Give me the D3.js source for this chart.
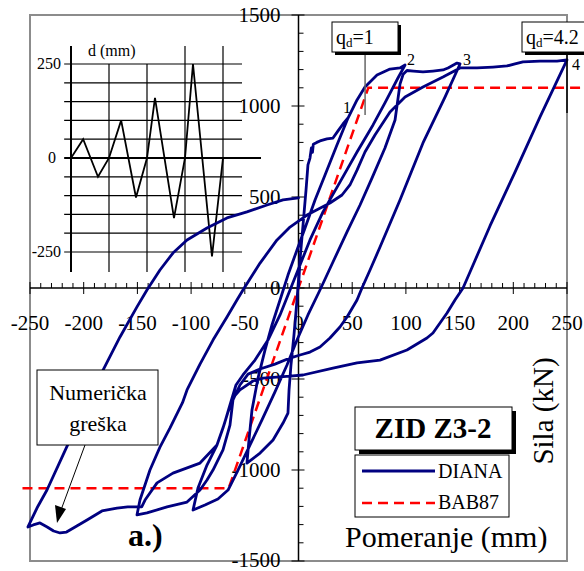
<!DOCTYPE html>
<html><head><meta charset="utf-8">
<script src="https://cdn.jsdelivr.net/npm/d3@7"></script>
<style>
body{margin:0;background:#fff}
svg{display:block}
</style>
</head><body>
<svg id="c" width="584" height="571" font-family="'Liberation Serif', Tinos, 'DejaVu Serif', serif"></svg>
<script>
// ---------- data ----------
const xTickLabels = [-250,-200,-150,-100,-50,0,50,100,150,200,250];
const yTickLabels = [-1500,-1000,-500,0,500,1000,1500];
const insetTickLabels = [-250,0,250];
const insetCycles = [0,1,2,3,4];

// DIANA hysteresis branches (displacement mm, force kN)
const dianaLoad0 = [[0,0],[1.4,154],[4.2,346],[7.0,538],[8.8,676],[10.7,714],[12.0,770],[13.0,745],[13.8,790],[17,800],[20.0,808],[26.5,819],[32.1,824],[36.8,863],[41.4,901],[46.1,934]];
const dianaUnload1 = [[46.1,934],[35.8,786],[24.7,621],[15.4,484],[6.1,330],[-1.4,209],[-9.8,71],[-17.2,-66],[-24.7,-203],[-31.2,-341],[-37.7,-495],[-43.3,-670],[-46.1,-835],[-48.0,-962]];
const dianaReload1 = [[-48.0,-962],[-35.8,-907],[-23.7,-835],[-14.4,-742],[-9.8,-687],[-8.8,-560],[-7.0,-423],[-4.2,-258],[-1.4,-66],[1.4,154],[4.2,346],[7.0,538],[8.8,676],[10.7,714],[12.0,770],[13.0,745],[13.8,790],[17,800],[20.0,808],[26.5,819],[32.1,824],[36.8,863],[41.4,901],[46.1,934],[54.5,1033],[61.9,1104],[73.1,1170],[85.2,1203],[94.5,1209],[99.2,1225]];
const dianaUnload2 = [[99.2,1225],[92.6,1154],[80.5,1017],[69.4,896],[54.5,747],[38.6,582],[22.8,418],[10.7,264],[1.4,126],[-7.9,-11],[-17.2,-148],[-28.4,-286],[-40.5,-396],[-51.7,-478],[-58.2,-533],[-63.8,-643],[-69.4,-753],[-75.9,-863],[-85.2,-973],[-93.6,-1099],[-98.2,-1220]];
const dianaReload2 = [[-98.2,-1220],[-87.1,-1192],[-75.0,-1159],[-65.6,-1110],[-56.3,-1000],[-45.2,-863],[-34.0,-725],[-21.9,-571],[-10.7,-423],[-1.4,-286],[8.8,-148],[20.0,-11],[32.1,143],[45.2,308],[57.3,456],[68.4,604],[80.5,769],[89.9,923],[94.5,1120],[97.5,1175],[101,1195],[107,1192],[115.9,1187],[125.2,1192],[134.5,1198],[139.2,1209],[147.6,1236],[150.4,1231]];
const dianaUnload3 = [[150.4,1231],[136.4,1049],[115.9,797],[94.5,484],[75.9,225],[66.6,99],[59.1,0],[54.5,-66],[45.2,-159],[38.6,-214],[29.3,-275],[20.0,-324],[10.7,-352],[1.4,-368],[-7.9,-385],[-21.9,-418],[-35.8,-445],[-47.0,-473],[-54.5,-533],[-61.0,-615],[-63.8,-753],[-70.3,-890],[-79.6,-1000],[-85.2,-1055],[-91.7,-1110],[-103.8,-1176],[-122.4,-1203],[-141.1,-1236],[-150.4,-1247]];
const dianaReload3 = [[-150.4,-1247],[-147.6,-1165],[-138.3,-1000],[-129.0,-874],[-119.6,-769],[-108,-630],[-103.8,-560],[-91.7,-418],[-79.6,-286],[-66.6,-159],[-57.3,-66],[-51.7,-11],[-35.8,137],[-20.0,264],[-7.9,335],[7.9,401],[29.3,467],[40.5,511],[47.9,566],[54.5,648],[61.9,747],[71.2,841],[85.2,967],[99.2,1049],[115.9,1104],[134.5,1159],[150.4,1209],[166.2,1209],[181.1,1214],[194.1,1220],[201.6,1231],[209.0,1242],[224.9,1247],[240.7,1247],[250,1253]];
const dianaUnload4 = [[250,1253],[224.9,940],[201.6,637],[178.3,341],[159.7,88],[153.2,0],[145.7,-66],[138.3,-137],[125.2,-247],[119.6,-275],[101.0,-341],[75.9,-396],[54.5,-412],[32.1,-440],[4.2,-478],[-7.9,-484],[-33.1,-495],[-42.4,-511],[-54.5,-560],[-61.0,-604],[-65.6,-681],[-70.3,-769],[-75.9,-863],[-91.7,-962],[-116.9,-1017],[-131.7,-1071],[-142.9,-1165],[-146,-1203]];
const dianaBottom = [[-146,-1203],[-150.4,-1203],[-159,-1203],[-169,-1209],[-183,-1225],[-196.9,-1275],[-208,-1313],[-216,-1341],[-222,-1346],[-228,-1335],[-234,-1313],[-240.7,-1291],[-247,-1302],[-251.9,-1313]];
const dianaFinal = [[-251.9,-1313],[-243.5,-1209],[-234.2,-1110],[-219.3,-918],[-203.4,-714],[-182.0,-451],[-166.2,-269],[-150.4,-104],[-141.1,-11],[-129.0,99],[-116.9,192],[-103.8,264],[-85.2,330],[-66.6,385],[-48.0,418],[-29.3,456],[-14.4,484],[0,495]];

// BAB87 bilinear idealisation
const bab87 = [[-257,-1100],[-65,-1100],[65,1100],[266,1100]];

// loading history (inset): cycle time, displacement mm
const historyT = [0,0.32,0.71,1,1.32,1.71,2,2.21,2.71,3,3.21,3.71,4];
const historyD = [0,50,-50,0,100,-105,0,160,-160,0,250,-262,0];

// labelled points
const pointLabels = ["1","2","3","4"];
const pointX = [46.1,99.2,150.4,250];
const pointY = [934,1231,1231,1253];
const qdValues = ["1","4.2"];
const qdDisp = [62,250];

// ---------- drawing ----------
const svg = d3.select("#c");
const X = d3.scaleLinear().domain([-250,250]).range([30,567]);
const Y = d3.scaleLinear().domain([-1500,1500]).range([561,15]);
const TX = d3.scaleLinear().domain([0,4]).range([71,223]);
const TY = d3.scaleLinear().domain([-250,250]).range([252,64]);

// frame
svg.append("rect").attr("x",X(-250)).attr("y",Y(1500)).attr("width",X(250)-X(-250)).attr("height",Y(-1500)-Y(1500))
  .attr("fill","none").attr("stroke","#8c8c8c").attr("stroke-width",2);

// ---- inset (loading history) ----
const inset = svg.append("g");
TY.ticks(10).forEach(v=>{
  inset.append("line").attr("x1",TX(-0.18)).attr("x2",v===0?TX(5):TX(4.5))
    .attr("y1",TY(v)).attr("y2",TY(v)).attr("stroke","#000").attr("stroke-width",v===0?2:1.2);
});
insetCycles.forEach(c=>{
  const top = (c===1||c===2)?TY(250):TY(250)-18;
  inset.append("line").attr("x1",TX(c)).attr("x2",TX(c)).attr("y1",top).attr("y2",TY(-250)+20)
    .attr("stroke","#000").attr("stroke-width",c===0?2:1.2);
});
insetTickLabels.forEach(v=>{
  inset.append("text").attr("x",v===0?56:61).attr("y",TY(v)+5).attr("text-anchor","end")
    .attr("font-size",16).text(v);
});
inset.append("text").attr("x",88).attr("y",56).attr("font-size",16).text("d (mm)");
inset.append("path").datum(historyT.map((t,i)=>[t,historyD[i]]))
  .attr("d",d3.line().x(d=>TX(d[0])).y(d=>TY(d[1])))
  .attr("fill","none").attr("stroke","#000").attr("stroke-width",1.8);

// ---- axes ----
const ax = svg.append("g");
ax.append("line").attr("x1",X(-250)).attr("x2",X(250)).attr("y1",Y(0)).attr("y2",Y(0)).attr("stroke","#000").attr("stroke-width",1.5);
ax.append("line").attr("x1",X(0)).attr("x2",X(0)).attr("y1",Y(1500)).attr("y2",Y(-1500)).attr("stroke","#000").attr("stroke-width",1.5);
X.ticks(50).forEach(v=>{
  const major = xTickLabels.includes(v);
  ax.append("line").attr("x1",X(v)).attr("x2",X(v)).attr("y1",Y(0)-(major?6:5)).attr("y2",Y(0)+(major?6:0))
    .attr("stroke","#000").attr("stroke-width",1);
});
Y.ticks(30).forEach(v=>{
  const major = yTickLabels.includes(v);
  ax.append("line").attr("y1",Y(v)).attr("y2",Y(v)).attr("x1",X(0)-(major?7:0)).attr("x2",X(0)+(major?6:5))
    .attr("stroke","#000").attr("stroke-width",1);
});
xTickLabels.forEach(v=>{
  ax.append("text").attr("x",X(v)).attr("y",Y(0)+42).attr("text-anchor","middle").attr("font-size",21).text(v);
});
yTickLabels.forEach(v=>{
  ax.append("text").attr("x",X(0)-18).attr("y",Y(v)+(v===-1500?6:7)).attr("text-anchor","end").attr("font-size",21).text(v);
});

// ---- curves ----
const line = d3.line().x(d=>X(d[0])).y(d=>Y(d[1]));
const diana = [].concat(dianaLoad0,dianaUnload1,dianaReload1,dianaUnload2,dianaReload2,dianaUnload3,dianaReload3,dianaUnload4,dianaBottom,dianaFinal);
svg.append("path").datum(bab87).attr("d",line).attr("fill","none")
  .attr("stroke","#ff0000").attr("stroke-width",2.5).attr("stroke-dasharray","10,6");
svg.append("path").datum(diana).attr("d",line).attr("fill","none")
  .attr("stroke","#000080").attr("stroke-width",2.8).attr("stroke-linejoin","round").attr("stroke-linecap","round");

// point labels
const lblOff = [[-5,-5],[2,1],[3,1],[5,10]];
pointLabels.forEach((t,i)=>{
  svg.append("text").attr("x",X(pointX[i])+lblOff[i][0]).attr("y",Y(pointY[i])+lblOff[i][1])
    .attr("font-size",16).text(t);
});

// q_d markers
qdValues.forEach((q,i)=>{
  const xp = X(qdDisp[i]);
  const g = svg.append("g");
  g.append("line").attr("x1",xp).attr("x2",xp).attr("y1",52).attr("y2",i===0?115:113)
    .attr("stroke",i===0?"#666":"#000").attr("stroke-width",1.5);
  const bx = i===0?332:522, bw = i===0?66:70;
  g.append("rect").attr("x",bx+3).attr("y",25).attr("width",bw).attr("height",30).attr("fill","#000");
  g.append("rect").attr("x",bx).attr("y",22).attr("width",bw).attr("height",30).attr("fill","#fff").attr("stroke","#000").attr("stroke-width",1);
  const t = g.append("text").attr("x",bx+4).attr("y",44).attr("font-size",20);
  t.append("tspan").text("q");
  t.append("tspan").attr("font-size",13).attr("dy",3).text("d");
  t.append("tspan").attr("dy",-3).text("=" + q);
});

// Numerička greška annotation
svg.append("rect").attr("x",37).attr("y",370).attr("width",121).attr("height",75).attr("fill","#fff").attr("stroke","#000").attr("stroke-width",1);
svg.append("text").attr("x",98).attr("y",400).attr("text-anchor","middle").attr("font-size",22).text("Numerička");
svg.append("text").attr("x",98).attr("y",431).attr("text-anchor","middle").attr("font-size",22).text("greška");
svg.append("line").attr("x1",85).attr("y1",445).attr("x2",61).attr("y2",510).attr("stroke","#000").attr("stroke-width",1);
svg.append("path").attr("d","M57,523 L55,505 L66,509 Z").attr("fill","#000");

// "a.)"
svg.append("text").attr("x",128).attr("y",546).attr("font-size",32).attr("font-weight","bold").text("a.)");

// legend title
svg.append("rect").attr("x",359).attr("y",411).attr("width",157).attr("height",43).attr("fill","#000");
svg.append("rect").attr("x",355).attr("y",407).attr("width",157).attr("height",43).attr("fill","#fff").attr("stroke","#000").attr("stroke-width",1);
svg.append("text").attr("x",433).attr("y",438).attr("text-anchor","middle").attr("font-size",29).attr("font-weight","bold").text("ZID Z3-2");

// legend
svg.append("rect").attr("x",355).attr("y",455).attr("width",154).attr("height",62).attr("fill","#fff").attr("stroke","#000").attr("stroke-width",1);
svg.append("line").attr("x1",362).attr("x2",435).attr("y1",471).attr("y2",471).attr("stroke","#000080").attr("stroke-width",3);
svg.append("text").attr("x",438).attr("y",478).attr("font-size",20).text("DIANA");
svg.append("line").attr("x1",362).attr("x2",435).attr("y1",503).attr("y2",503).attr("stroke","#ff0000").attr("stroke-width",2.5).attr("stroke-dasharray","10,6");
svg.append("text").attr("x",438).attr("y",509).attr("font-size",20).text("BAB87");

// axis titles
svg.append("text").attr("x",345).attr("y",547).attr("font-size",30).text("Pomeranje (mm)");
svg.append("text").attr("transform","translate(553,411) rotate(-90)").attr("text-anchor","middle").attr("font-size",29).text("Sila (kN)");
</script>
</body></html>
